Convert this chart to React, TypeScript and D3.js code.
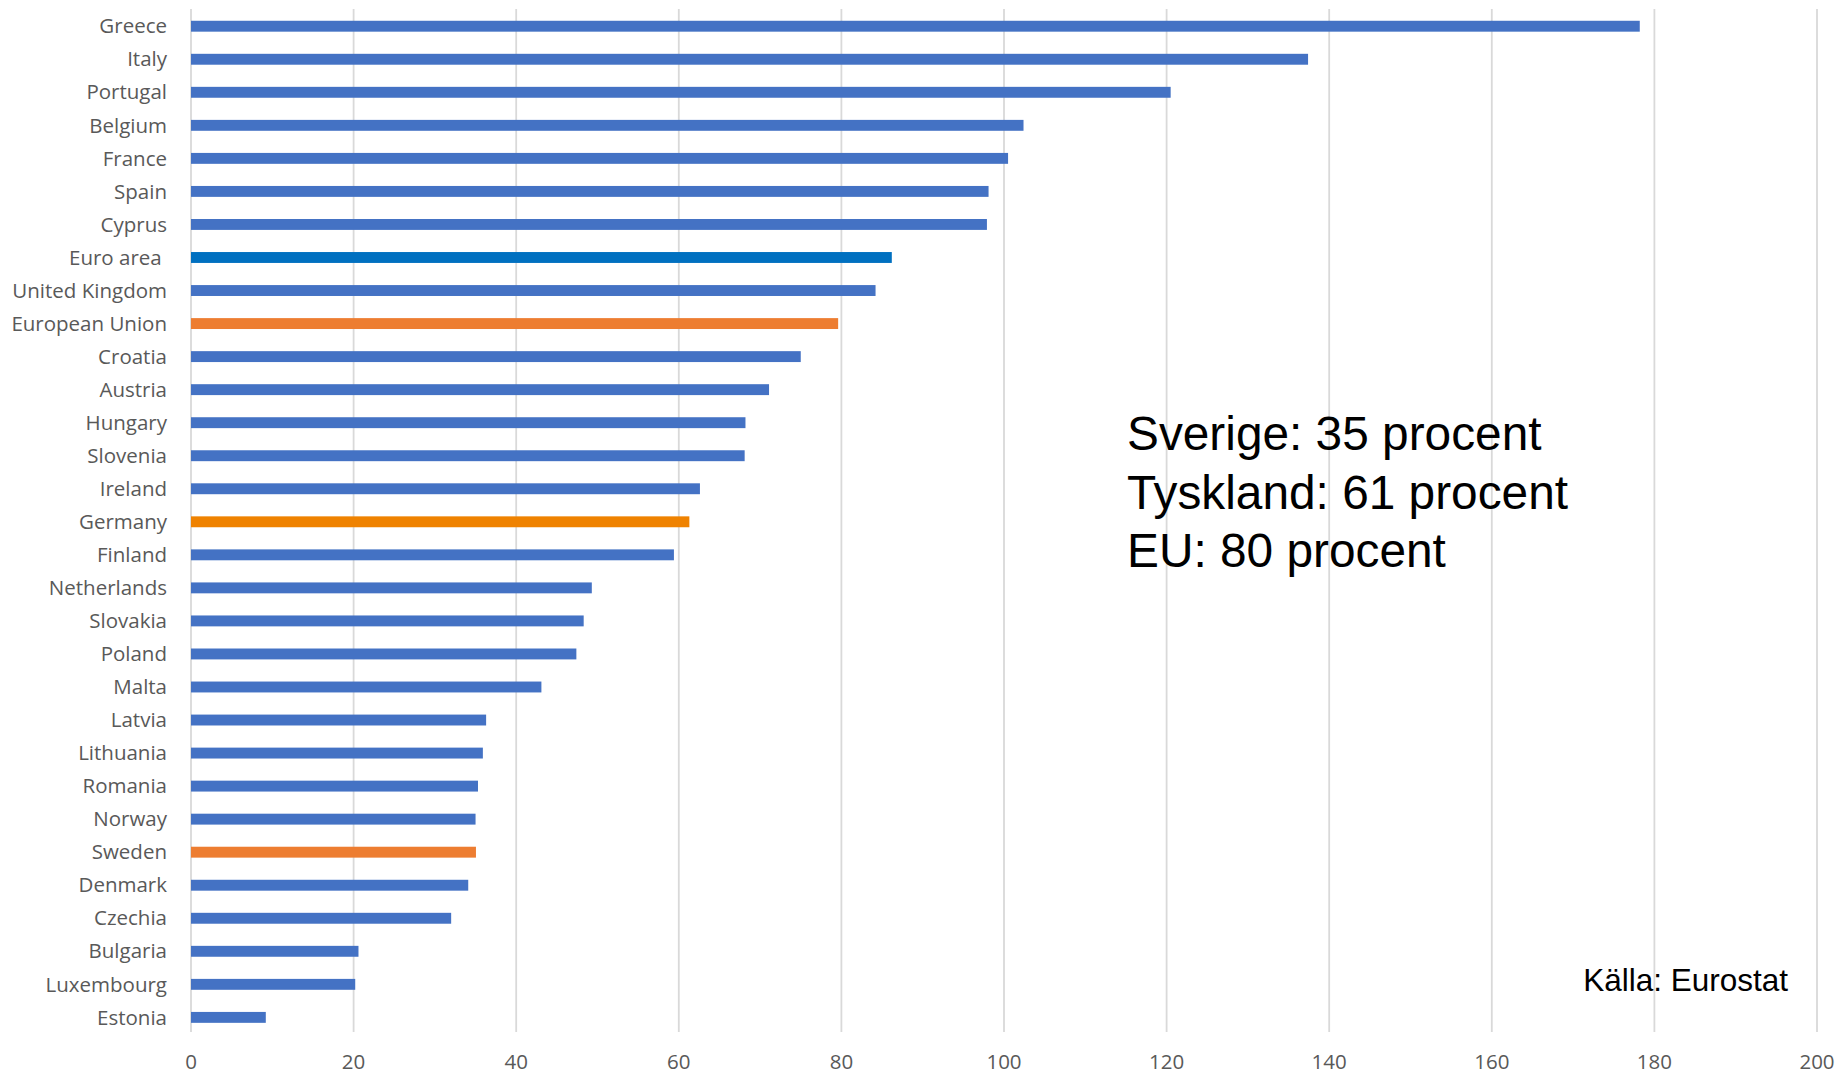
import React from "react";
import * as d3 from "d3";

const countries = [
  "Greece", "Italy", "Portugal", "Belgium", "France", "Spain", "Cyprus", "Euro area\u00A0",
  "United Kingdom", "European Union", "Croatia", "Austria", "Hungary", "Slovenia", "Ireland",
  "Germany", "Finland", "Netherlands", "Slovakia", "Poland", "Malta", "Latvia", "Lithuania",
  "Romania", "Norway", "Sweden", "Denmark", "Czechia", "Bulgaria", "Luxembourg", "Estonia",
];
const values = [
  178.2, 137.4, 120.5, 102.4, 100.5, 98.1, 97.9, 86.2, 84.2, 79.6, 75.0, 71.1, 68.2, 68.1, 62.6,
  61.3, 59.4, 49.3, 48.3, 47.4, 43.1, 36.3, 35.9, 35.3, 35.0, 35.05, 34.1, 32.0, 20.6, 20.2, 9.2,
];
const highlight: Record<string, string> = {
  "Euro area\u00A0": "#0070C0",
  "European Union": "#ED7D31",
  Germany: "#EF8200",
  Sweden: "#ED7D31",
};
const xTicks = [0, 20, 40, 60, 80, 100, 120, 140, 160, 180, 200];
const notes = ["Sverige: 35 procent", "Tyskland: 61 procent", "EU: 80 procent"];
const source = "Källa: Eurostat";

export default function App() {
  const W = 1837, H = 1074;
  const left = 191, right = 1817, top = 9.7, bottom = 1033.9;
  const x = d3.scaleLinear().domain([0, 200]).range([left, right]);
  const y = d3.scaleBand<string>().domain(countries).range([top, bottom]).paddingInner(0.67).paddingOuter(0.335);
  const labelFont = "'Open Sans', sans-serif";
  return (
    <svg width={W} height={H} style={{ position: "fixed", left: 0, top: 0, background: "#fff" }}>
      {xTicks.map((t) => (
        <line key={"g" + t} x1={x(t)} x2={x(t)} y1={9} y2={1032} stroke="#D9D9D9" strokeWidth={1.8} />
      ))}
      {countries.map((c, i) => (
        <rect key={c} x={x(0)} y={y(c)} width={x(values[i]) - x(0)} height={y.bandwidth()} fill={highlight[c] || "#4472C4"} />
      ))}
      {countries.map((c) => (
        <text key={"l" + c} x={167} y={(y(c) as number) + y.bandwidth() / 2} dy="0.35em" textAnchor="end"
          fontFamily={labelFont} fontSize={20.5} fill="#595959">{c}</text>
      ))}
      {xTicks.map((t) => (
        <text key={"t" + t} x={x(t)} y={1069} textAnchor="middle" fontFamily={labelFont} fontSize={20.5} fill="#595959">{t}</text>
      ))}
      {notes.map((n, i) => (
        <text key={n} x={1127} y={450 + i * 58.5} fontFamily="'Liberation Sans', Arial, sans-serif" fontSize={47.8} fill="#000">{n}</text>
      ))}
      <text x={1788} y={991} textAnchor="end" fontFamily="'Liberation Sans', Arial, sans-serif" fontSize={31.5} fill="#000">{source}</text>
    </svg>
  );
}
